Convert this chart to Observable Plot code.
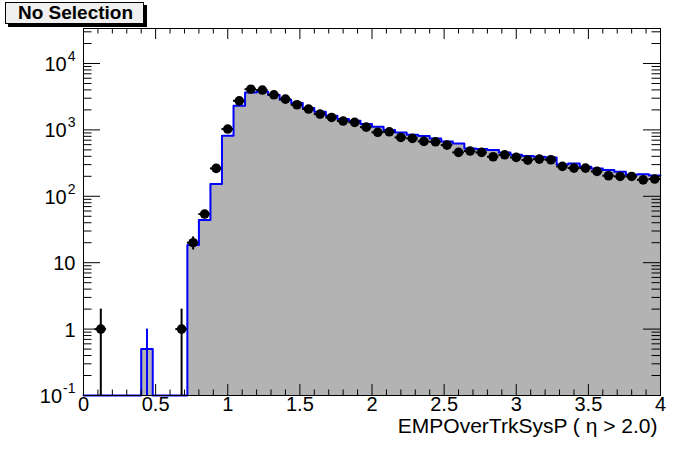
<!DOCTYPE html>
<html>
<head>
<meta charset="utf-8">
<script src="https://cdn.jsdelivr.net/npm/d3@7"></script>
<script src="https://cdn.jsdelivr.net/npm/@observablehq/plot@0.6"></script>
<style>
  body { margin: 0; background: #fff; }
  #wrap { position: relative; width: 696px; height: 472px; }
  #sel {
    position: absolute; left: 5px; top: 2px; width: 139px; height: 22px;
    box-sizing: border-box; background: #f0f0f0; border: 1px solid #000;
    box-shadow: 3px 3px 0 #000;
    font: bold 19px "Liberation Sans", Arial, sans-serif; color: #000;
    line-height: 20px; padding-left: 12px; white-space: nowrap;
  }
</style>
</head>
<body>
<div id="wrap"><div id="sel">No Selection</div></div>
<script>
// ---- data ----
const binCenters = [0.04,0.12,0.20,0.28,0.36,0.44,0.52,0.60,0.68,0.76,
  0.84,0.92,1.00,1.08,1.16,1.24,1.32,1.40,1.48,1.56,
  1.64,1.72,1.80,1.88,1.96,2.04,2.12,2.20,2.28,2.36,
  2.44,2.52,2.60,2.68,2.76,2.84,2.92,3.00,3.08,3.16,
  3.24,3.32,3.40,3.48,3.56,3.64,3.72,3.80,3.88,3.96];
const binHalfWidth = 0.04;
const dataCounts = [0,1,0,0,0,0,0,0,1,20,
  54,263,1030,2740,4100,3980,3380,2910,2390,2060,
  1730,1540,1360,1300,1100,920,936,770,745,671,
  662,590,458,480,458,394,422,385,351,363,
  355,282,266,266,237,204,199,199,177,182];
const mcCounts = [0,0,0,0,0,0.5,0,0,0,18.5,
  44,153,815,2306,3670,3750,3340,2840,2535,2130,
  1875,1630,1455,1372,1222,1113,1000,916,844,807,
  745,671,626,526,514,496,458,422,403,394,
  385,302,311,278,262,248,234,211,215,206];
const mcErrors = [0,0,0,0,0,0.5,0,0,0,0,
  0,0,0,0,0,0,0,0,0,0,
  0,0,0,0,0,0,0,0,0,0,
  0,0,0,0,0,0,0,0,0,0,
  0,0,0,0,0,0,0,0,0,0];
const xMajorTicks = [0,0.5,1,1.5,2,2.5,3,3.5,4];
const xTickLabels = ["0","0.5","1","1.5","2","2.5","3","3.5","4"];
const xMinorTicks = [0.1,0.2,0.3,0.4,0.6,0.7,0.8,0.9,1.1,1.2,1.3,1.4,1.6,1.7,1.8,1.9,
  2.1,2.2,2.3,2.4,2.6,2.7,2.8,2.9,3.1,3.2,3.3,3.4,3.6,3.7,3.8,3.9];
const yMajorTicks = [0.1,1,10,100,1000,10000];
const yLabelBase = ["10","1","10","10","10","10"];
const yLabelExp  = ["-1","","","2","3","4"];
const yMinorTicks = [0.2,0.3,0.4,0.5,0.6,0.7,0.8,0.9,2,3,4,5,6,7,8,9,
  20,30,40,50,60,70,80,90,200,300,400,500,600,700,800,900,
  2000,3000,4000,5000,6000,7000,8000,9000,20000,30000];
const xTitle = "EMPOverTrkSysP ( \u03b7 > 2.0)";
const yDomain = [0.1, 33650];

// ---- build ----
const W = 696, H = 472, mL = 83, mR = 36, mT = 28, mB = 77;
const frameH = H - mT - mB, frameW = W - mL - mR;
const ymin = yDomain[0];
const rows = binCenters.map((c, i) => ({
  c, lo: c - binHalfWidth, hi: c + binHalfWidth,
  n: dataCounts[i], mc: mcCounts[i], me: mcErrors[i]
}));
const dataRows = rows.filter(d => d.n > 0);
const mcErrRows = rows.filter(d => d.me > 0);
const stepPts = rows.flatMap(d => [
  {x: d.lo, y: Math.max(d.mc, ymin)},
  {x: d.hi, y: Math.max(d.mc, ymin)}
]);
const font = '"Liberation Sans", Arial, sans-serif';
const ctx = document.createElement("canvas").getContext("2d");
ctx.font = `14px ${font}`;

const yLabelMarks = yMajorTicks.flatMap((v, i) => {
  const exp = yLabelExp[i];
  const w = exp ? ctx.measureText(exp).width + 1 : 0;
  const m = [Plot.text([v], {y: d => d, text: () => yLabelBase[i], frameAnchor: "left",
    textAnchor: "end", dx: -8 - w, dy: 1, fontSize: 20, fill: "black"})];
  if (exp) m.push(Plot.text([v], {y: d => d, text: () => exp, frameAnchor: "left",
    textAnchor: "end", dx: -8, dy: -7, fontSize: 14, fill: "black"}));
  return m;
});
const xLabels = xMajorTicks.map((v, i) => ({v, t: xTickLabels[i]}));

const chart = Plot.plot({
  width: W, height: H, marginLeft: mL, marginRight: mR, marginTop: mT, marginBottom: mB,
  x: {domain: [0, 4], axis: null},
  y: {type: "log", domain: yDomain, axis: null},
  style: {fontFamily: font, background: "white", overflow: "visible"},
  marks: [
    Plot.areaY(stepPts, {x: "x", y1: () => ymin, y2: "y", fill: "#b3b3b3", curve: "linear"}),
    Plot.line(stepPts, {x: "x", y: "y", stroke: "#0000ff", strokeWidth: 2, curve: "linear"}),
    Plot.ruleX(mcErrRows, {x: "c", y1: d => Math.max(d.mc - d.me, ymin), y2: d => d.mc + d.me, stroke: "#0000ff", strokeWidth: 2}),
    Plot.ruleX(dataRows, {x: "c", y1: d => Math.max(d.n - Math.sqrt(d.n), ymin), y2: d => d.n + Math.sqrt(d.n), stroke: "black", strokeWidth: 2}),
    Plot.ruleY(dataRows, {y: "n", x1: "lo", x2: "hi", stroke: "black", strokeWidth: 2}),
    Plot.dot(dataRows, {x: "c", y: "n", r: 4.8, fill: "black", stroke: "none"}),
    Plot.frame({stroke: "black", strokeWidth: 1}),
    // x ticks (bottom and top, pointing inward)
    Plot.tickX(xMajorTicks, {x: d => d, insetTop: frameH - 11, stroke: "black"}),
    Plot.tickX(xMinorTicks, {x: d => d, insetTop: frameH - 5.5, stroke: "black"}),
    Plot.tickX(xMajorTicks, {x: d => d, insetBottom: frameH - 11, stroke: "black"}),
    Plot.tickX(xMinorTicks, {x: d => d, insetBottom: frameH - 5.5, stroke: "black"}),
    // y ticks (left and right, pointing inward)
    Plot.tickY(yMajorTicks, {y: d => d, insetRight: frameW - 17, stroke: "black"}),
    Plot.tickY(yMinorTicks, {y: d => d, insetRight: frameW - 8.5, stroke: "black"}),
    Plot.tickY(yMajorTicks, {y: d => d, insetLeft: frameW - 17, stroke: "black"}),
    Plot.tickY(yMinorTicks, {y: d => d, insetLeft: frameW - 8.5, stroke: "black"}),
    // x tick labels
    Plot.text(xLabels, {x: "v", text: "t", frameAnchor: "bottom", dy: 15.5, fontSize: 20, fill: "black"}),
    ...yLabelMarks,
    // x title
    Plot.text([xTitle], {text: d => d, frameAnchor: "bottom-right", textAnchor: "end", dx: -3, dy: 37, fontSize: 21, fill: "black"})
  ]
});
const wrap = document.getElementById("wrap");
wrap.insertBefore(chart, wrap.firstChild);
</script>
</body>
</html>
